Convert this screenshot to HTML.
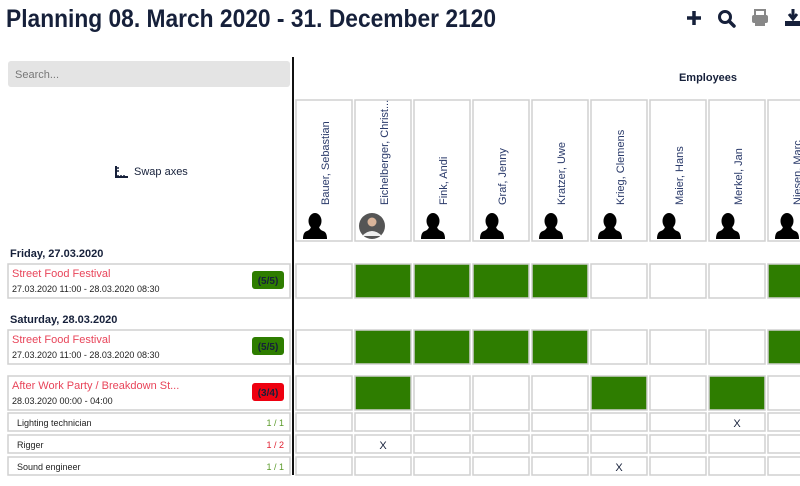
<!DOCTYPE html>
<html><head><meta charset="utf-8"><style>
html,body{margin:0;padding:0;background:#fff;width:800px;height:486px;overflow:hidden}
svg{display:block;font-family:"Liberation Sans",sans-serif}
</style></head><body>
<svg width="800" height="486" viewBox="0 0 800 486" xmlns="http://www.w3.org/2000/svg">
<defs>
<g id="sil"><ellipse cx="0" cy="0" rx="6.5" ry="8" fill="#000"/><path d="M-4,6 Q-5,9 -8,10 Q-12,11 -12,18 L12,18 Q12,11 8,10 Q5,9 4,6 Z" fill="#000"/></g>
</defs>
<text x="6" y="27" font-size="25" font-weight="bold" fill="#16203a" textLength="490" lengthAdjust="spacingAndGlyphs">Planning 08. March 2020 - 31. December 2120</text>
<!-- icons -->
<path d="M694,11 v14 M687,18 h14" stroke="#16203a" stroke-width="3.5"/>
<circle cx="725" cy="17" r="5.5" fill="none" stroke="#16203a" stroke-width="3"/>
<path d="M729,21 L734,26" stroke="#16203a" stroke-width="3.5" stroke-linecap="round"/>
<rect x="755" y="10" width="10" height="6" fill="none" stroke="#888" stroke-width="2"/>
<rect x="752" y="15" width="16" height="8" rx="2" fill="#888"/>
<rect x="755" y="20" width="10" height="6" fill="#888"/>
<path d="M793,9 v9 M789,14 l4,5 l4,-5" stroke="#16203a" stroke-width="3" fill="none"/>
<rect x="785" y="21" width="16" height="5" fill="#16203a"/>
<!-- search -->
<rect x="8" y="61" width="282" height="26" rx="3" fill="#e4e4e4"/>
<text x="15" y="78" font-size="11" fill="#777">Search...</text>
<!-- swap axes -->
<path d="M116,166 v11 h12" stroke="#16203a" stroke-width="2" fill="none"/>
<path d="M118,177 v-2 M121,177 v-2 M124,177 v-2 M119,168 h-2 M119,171 h-2" stroke="#16203a" stroke-width="1.5"/>
<text x="134" y="175" font-size="11" fill="#16203a">Swap axes</text>
<text x="708" y="81" font-size="11" font-weight="bold" fill="#16203a" text-anchor="middle">Employees</text>
<!-- divider -->
<rect x="292" y="57" width="2" height="418" fill="#111"/>
<!-- column headers -->
<g stroke="#d0d0d0" stroke-width="1.5" fill="#fff">
<rect x="296" y="100" width="56" height="141"/><rect x="355" y="100" width="56" height="141"/><rect x="414" y="100" width="56" height="141"/><rect x="473" y="100" width="56" height="141"/><rect x="532" y="100" width="56" height="141"/><rect x="591" y="100" width="56" height="141"/><rect x="650" y="100" width="56" height="141"/><rect x="709" y="100" width="56" height="141"/><rect x="768" y="100" width="56" height="141"/>
</g>
<g font-size="11" fill="#2a3a6a">
<text transform="translate(329,205) rotate(-90)">Bauer, Sebastian</text>
<text transform="translate(388,205) rotate(-90)">Eichelberger, Christ...</text>
<text transform="translate(447,205) rotate(-90)">Fink, Andi</text>
<text transform="translate(506,205) rotate(-90)">Graf, Jenny</text>
<text transform="translate(565,205) rotate(-90)">Kratzer, Uwe</text>
<text transform="translate(624,205) rotate(-90)">Krieg, Clemens</text>
<text transform="translate(683,205) rotate(-90)">Maier, Hans</text>
<text transform="translate(742,205) rotate(-90)">Merkel, Jan</text>
<text transform="translate(801,205) rotate(-90)">Niesen, Marc</text>
</g>
<use href="#sil" x="315" y="221"/>
<circle cx="372" cy="226" r="13" fill="#555"/><circle cx="372" cy="222" r="4.5" fill="#d9b49a"/><path d="M362,236 Q372,226 382,236 Z" fill="#eee"/>
<use href="#sil" x="433" y="221"/><use href="#sil" x="492" y="221"/><use href="#sil" x="551" y="221"/><use href="#sil" x="610" y="221"/><use href="#sil" x="669" y="221"/><use href="#sil" x="728" y="221"/><use href="#sil" x="787" y="221"/>
<!-- day labels -->
<text x="10" y="257" font-size="11" font-weight="bold" fill="#16203a">Friday, 27.03.2020</text>
<text x="10" y="323" font-size="11" font-weight="bold" fill="#16203a">Saturday, 28.03.2020</text>
<!-- event boxes -->
<g stroke="#d0d0d0" stroke-width="1.5" fill="#fff">
<rect x="8" y="264" width="282" height="34"/><rect x="8" y="330" width="282" height="34"/><rect x="8" y="376" width="282" height="34"/>
<rect x="8" y="413" width="282" height="18"/><rect x="8" y="435" width="282" height="18"/><rect x="8" y="457" width="282" height="18"/>
</g>
<g font-size="11" fill="#e8455a">
<text x="12" y="277">Street Food Festival</text>
<text x="12" y="343">Street Food Festival</text>
<text x="12" y="389">After Work Party / Breakdown St...</text>
</g>
<g font-size="9" fill="#222">
<text x="12" y="292">27.03.2020 11:00 - 28.03.2020 08:30</text>
<text x="12" y="358">27.03.2020 11:00 - 28.03.2020 08:30</text>
<text x="12" y="404">28.03.2020 00:00 - 04:00</text>
<text x="17" y="426">Lighting technician</text>
<text x="17" y="448">Rigger</text>
<text x="17" y="470">Sound engineer</text>
</g>
<g font-size="9">
<text x="284" y="426" text-anchor="end" fill="#5a9a2a">1 / 1</text>
<text x="284" y="448" text-anchor="end" fill="#e02030">1 / 2</text>
<text x="284" y="470" text-anchor="end" fill="#5a9a2a">1 / 1</text>
</g>
<rect x="252" y="271" width="32" height="18" rx="3" fill="#2e7d00"/><text x="268" y="284" font-size="10" font-weight="bold" fill="#16203a" text-anchor="middle">(5/5)</text>
<rect x="252" y="337" width="32" height="18" rx="3" fill="#2e7d00"/><text x="268" y="350" font-size="10" font-weight="bold" fill="#16203a" text-anchor="middle">(5/5)</text>
<rect x="252" y="383" width="32" height="18" rx="3" fill="#ee0010"/><text x="268" y="396" font-size="10" font-weight="bold" fill="#16203a" text-anchor="middle">(3/4)</text>
<!-- grid cells -->
<g stroke="#d0d0d0" stroke-width="1.5">
<!-- row 1 -->
<rect x="296" y="264" width="56" height="34" fill="#fff"/><rect x="355" y="264" width="56" height="34" fill="#2e7d00"/><rect x="414" y="264" width="56" height="34" fill="#2e7d00"/><rect x="473" y="264" width="56" height="34" fill="#2e7d00"/><rect x="532" y="264" width="56" height="34" fill="#2e7d00"/><rect x="591" y="264" width="56" height="34" fill="#fff"/><rect x="650" y="264" width="56" height="34" fill="#fff"/><rect x="709" y="264" width="56" height="34" fill="#fff"/><rect x="768" y="264" width="56" height="34" fill="#2e7d00"/>
<!-- row 2 -->
<rect x="296" y="330" width="56" height="34" fill="#fff"/><rect x="355" y="330" width="56" height="34" fill="#2e7d00"/><rect x="414" y="330" width="56" height="34" fill="#2e7d00"/><rect x="473" y="330" width="56" height="34" fill="#2e7d00"/><rect x="532" y="330" width="56" height="34" fill="#2e7d00"/><rect x="591" y="330" width="56" height="34" fill="#fff"/><rect x="650" y="330" width="56" height="34" fill="#fff"/><rect x="709" y="330" width="56" height="34" fill="#fff"/><rect x="768" y="330" width="56" height="34" fill="#2e7d00"/>
<!-- row 3 -->
<rect x="296" y="376" width="56" height="34" fill="#fff"/><rect x="355" y="376" width="56" height="34" fill="#2e7d00"/><rect x="414" y="376" width="56" height="34" fill="#fff"/><rect x="473" y="376" width="56" height="34" fill="#fff"/><rect x="532" y="376" width="56" height="34" fill="#fff"/><rect x="591" y="376" width="56" height="34" fill="#2e7d00"/><rect x="650" y="376" width="56" height="34" fill="#fff"/><rect x="709" y="376" width="56" height="34" fill="#2e7d00"/><rect x="768" y="376" width="56" height="34" fill="#fff"/>
</g>
<g stroke="#d0d0d0" stroke-width="1.5" fill="#fff">
<rect x="296" y="413" width="56" height="18"/><rect x="355" y="413" width="56" height="18"/><rect x="414" y="413" width="56" height="18"/><rect x="473" y="413" width="56" height="18"/><rect x="532" y="413" width="56" height="18"/><rect x="591" y="413" width="56" height="18"/><rect x="650" y="413" width="56" height="18"/><rect x="709" y="413" width="56" height="18"/><rect x="768" y="413" width="56" height="18"/>
<rect x="296" y="435" width="56" height="18"/><rect x="355" y="435" width="56" height="18"/><rect x="414" y="435" width="56" height="18"/><rect x="473" y="435" width="56" height="18"/><rect x="532" y="435" width="56" height="18"/><rect x="591" y="435" width="56" height="18"/><rect x="650" y="435" width="56" height="18"/><rect x="709" y="435" width="56" height="18"/><rect x="768" y="435" width="56" height="18"/>
<rect x="296" y="457" width="56" height="18"/><rect x="355" y="457" width="56" height="18"/><rect x="414" y="457" width="56" height="18"/><rect x="473" y="457" width="56" height="18"/><rect x="532" y="457" width="56" height="18"/><rect x="591" y="457" width="56" height="18"/><rect x="650" y="457" width="56" height="18"/><rect x="709" y="457" width="56" height="18"/><rect x="768" y="457" width="56" height="18"/>
</g>
<g font-size="11" fill="#16203a" text-anchor="middle">
<text x="737" y="427">X</text>
<text x="383" y="449">X</text>
<text x="619" y="471">X</text>
</g>
</svg>
</body></html>
